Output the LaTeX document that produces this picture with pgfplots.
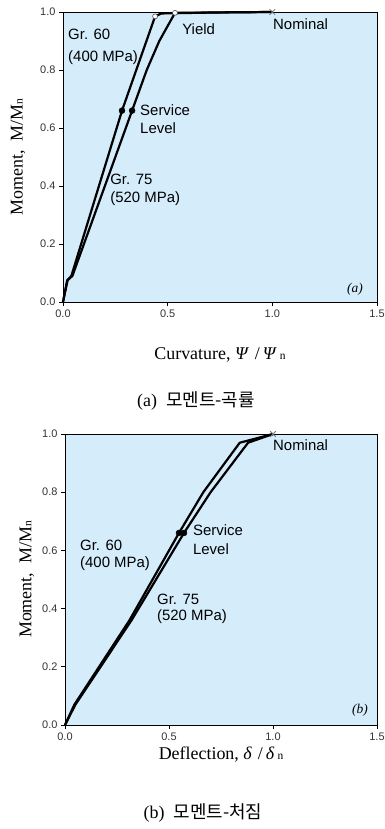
\documentclass[border=0pt]{standalone}
\usepackage{fontspec}
\setmainfont{Liberation Serif}
\newfontfamily\arial{Liberation Sans}
\newfontfamily\kr{Noto Sans CJK KR}
\usepackage{pgfplots}
\pgfplotsset{compat=1.18}
\definecolor{bg}{RGB}{213,236,251}
\pgfplotsset{
  myax/.style={
    scale only axis,
    xmin=0, xmax=1.5, ymin=0, ymax=1.0,
    xtick={0,0.5,1.0,1.5}, ytick={0,0.2,0.4,0.6,0.8,1.0},
    /pgf/number format/.cd, fixed, fixed zerofill, precision=1, assume math mode=true, /pgfplots/.cd,
    tick align=outside, xtick pos=bottom, ytick pos=left,
    major tick length=4bp,
    tick label style={font=\arial\fontsize{11}{12}\selectfont, text=black!80},
    axis background/.style={fill=bg},
    axis line style={line width=0.9bp},
    tick style={line width=0.8bp, black},
    clip=false,
    label style={font=\fontsize{18}{20}\selectfont},
  },
}
\tikzset{
  crv/.style={line width=2.2bp, black, line join=round},
  ann/.style={font=\arial\fontsize{15}{17}\selectfont, anchor=west, text height=1.4ex, text depth=0.3ex, inner sep=0pt},
}
\newcommand{\sub}[1]{{\fontsize{11.5}{11.5}\selectfont #1}}
\begin{document}
\begin{tikzpicture}
\useasboundingbox (0,0) rectangle (385bp,-829bp);

% ---------------- (a) ----------------
\begin{axis}[myax, at={(63bp,-302bp)}, anchor=south west, width=314bp, height=290bp,
  xlabel={Curvature,\ \textit{Ψ}\,\,/\,\textit{Ψ}\,\sub{n}},
  ylabel={Moment,\ \ M/M\sub{n}},
  xlabel style={at={(axis description cs:0.5,-0.183)}, anchor=center},
  ylabel style={at={(axis description cs:-0.143,0.5)}, anchor=center},
]
\addplot[crv] coordinates {(0,0) (0.02,0.075) (0.04,0.09) (0.282,0.66) (0.35,0.8) (0.44,0.985) (0.47,0.995) (0.7,0.998) (1.0,1.0)};
\addplot[crv] coordinates {(0,0) (0.022,0.075) (0.045,0.09) (0.33,0.66) (0.40,0.8) (0.46,0.9) (0.535,0.997) (0.8,0.999) (1.0,1.0)};
\addplot[only marks, mark=*, mark size=3bp, black] coordinates {(0.282,0.66) (0.33,0.66)};
\addplot[only marks, mark=*, mark size=2.5bp, mark options={fill=white, draw=black!70, line width=0.6bp}] coordinates {(0.44,0.985) (0.535,0.997)};
\addplot[only marks, mark=x, mark size=4bp, mark options={draw=black!55, line width=0.8bp}] coordinates {(1.0,1.0)};
\node[ann] at (axis cs:0.024,0.914) {Gr. 60};
\node[ann] at (axis cs:0.024,0.838) {(400 MPa)};
\node[ann] at (axis cs:0.569,0.931) {Yield};
\node[ann] at (axis cs:1.003,0.948) {Nominal};
\node[ann] at (axis cs:0.368,0.652) {Service};
\node[ann] at (axis cs:0.368,0.590) {Level};
\node[ann] at (axis cs:0.225,0.414) {Gr. 75};
\node[ann] at (axis cs:0.225,0.352) {(520 MPa)};
\node[font=\fontsize{13.5}{15}\selectfont\itshape, anchor=east, inner sep=0pt] at (axis cs:1.433,0.045) {(a)};
\end{axis}

% ---------------- (b) ----------------
\begin{axis}[myax, at={(65bp,-725bp)}, anchor=south west, width=312bp, height=291bp,
  xlabel={Deflection,\ \textit{δ}\,\,/\,\textit{δ}\,\sub{n}},
  ylabel={Moment,\ \ M/M\sub{n}},
  xlabel style={at={(axis description cs:0.5,-0.1)}, anchor=center},
  ylabel style={at={(axis description cs:-0.122,0.5)}, anchor=center},
]
\addplot[crv] coordinates {(0,0) (0.045,0.07) (0.31,0.36) (0.548,0.66) (0.665,0.8) (0.84,0.97) (1.0,1.0)};
\addplot[crv] coordinates {(0,0) (0.05,0.07) (0.32,0.36) (0.572,0.66) (0.70,0.8) (0.88,0.97) (1.0,1.0)};
\addplot[only marks, mark=*, mark size=3bp, black] coordinates {(0.548,0.66) (0.572,0.66)};
\addplot[only marks, mark=x, mark size=4bp, mark options={draw=black!55, line width=0.8bp}] coordinates {(1.0,1.0)};
\node[ann] at (axis cs:1.0,0.952) {Nominal};
\node[ann] at (axis cs:0.615,0.66) {Service};
\node[ann] at (axis cs:0.615,0.595) {Level};
\node[ann] at (axis cs:0.072,0.608) {Gr. 60};
\node[ann] at (axis cs:0.072,0.55) {(400 MPa)};
\node[ann] at (axis cs:0.442,0.423) {Gr. 75};
\node[ann] at (axis cs:0.442,0.368) {(520 MPa)};
\node[font=\fontsize{13.5}{15}\selectfont\itshape, anchor=east, inner sep=0pt] at (axis cs:1.457,0.05) {(b)};
\end{axis}

% captions
\node[font=\fontsize{18}{20}\selectfont] at (196bp,-401bp) {(a)\enspace{\kr 모멘트-곡률}};
\node[font=\fontsize{18}{20}\selectfont] at (203bp,-813bp) {(b)\enspace{\kr 모멘트-처짐}};
\end{tikzpicture}
\end{document}
